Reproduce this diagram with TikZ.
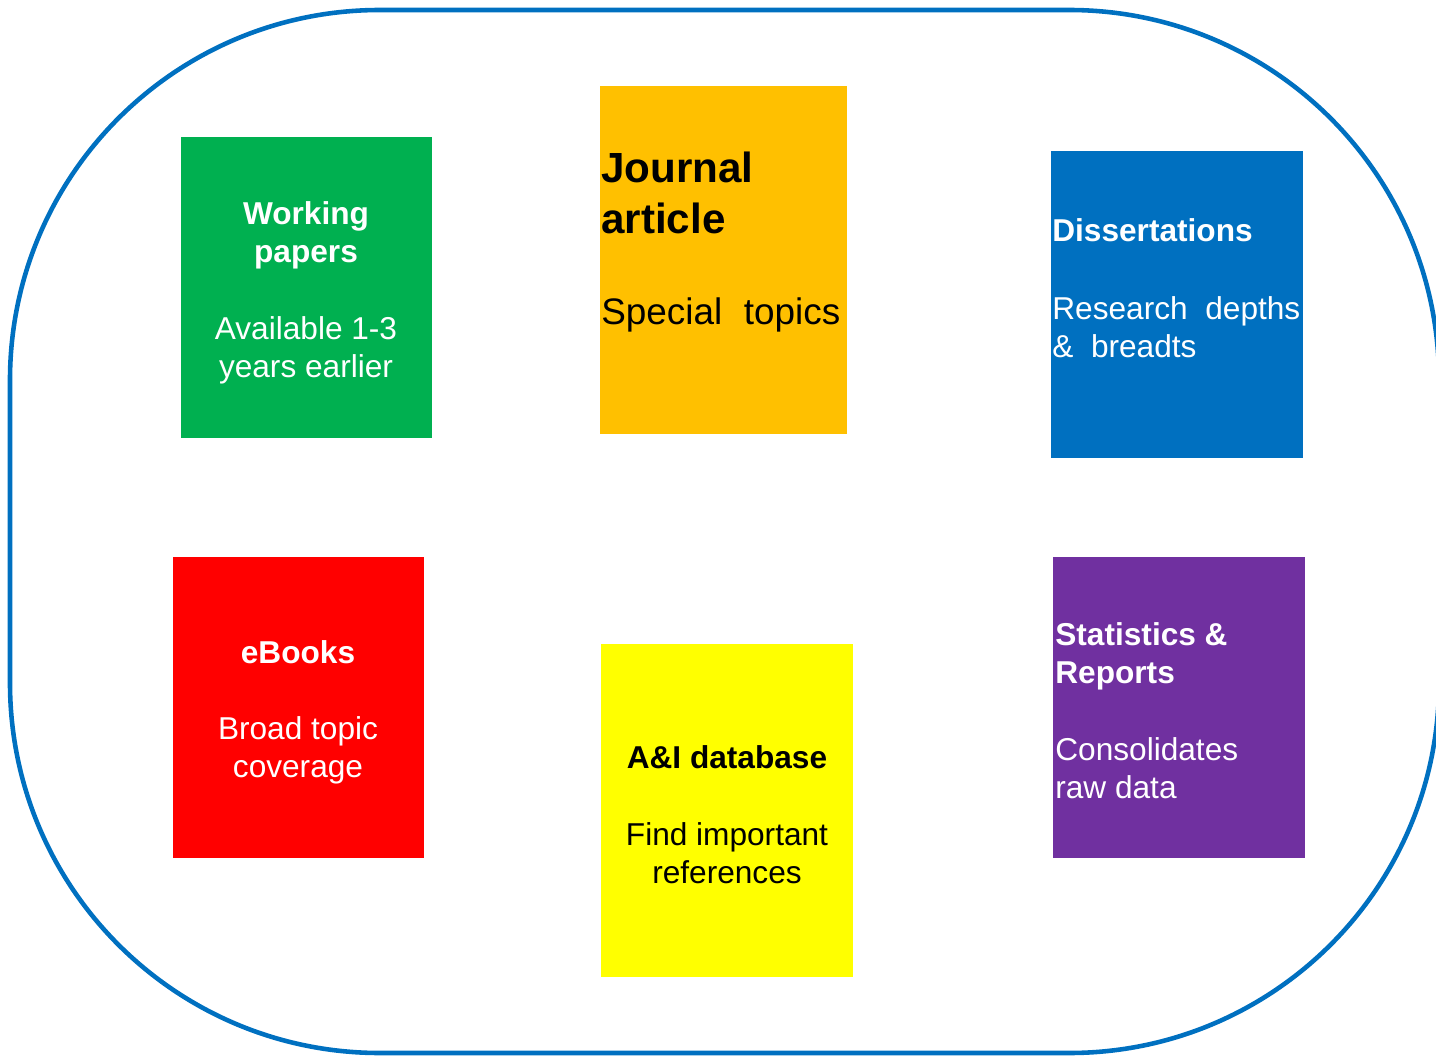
\documentclass[tikz,border=0pt]{standalone}
\usepackage{fontspec}
\setmainfont{Liberation Sans}
\usetikzlibrary{fit}

\definecolor{rimblue}{HTML}{0070C0}
\definecolor{wpgreen}{HTML}{00B050}
\definecolor{jaorange}{HTML}{FFC000}
\definecolor{dsblue}{HTML}{0070C0}
\definecolor{ebred}{HTML}{FF0000}
\definecolor{aiyellow}{HTML}{FFFF00}
\definecolor{srpurple}{HTML}{7030A0}

\begin{document}
\begin{tikzpicture}[x=0.02cm,y=-0.02cm,
    card/.style={rectangle,inner sep=0pt,draw=none},
    head/.style={inner sep=0pt,font=\bfseries\fontsize{18}{21.8}\selectfont},
    body/.style={inner sep=0pt,font=\fontsize{18}{21.8}\selectfont}]
    \useasboundingbox (0,0) rectangle (1436,1057);
    \draw[rimblue, line width=2.6pt, rounded corners=7.4cm] (10,10) rectangle (1439,1053);

    \node[card, fill=wpgreen, fit={(181,137) (432,438)}] (wp) {};
    \node[card, fill=jaorange, fit={(600,86) (847,434)}] (ja) {};
    \node[card, fill=dsblue, fit={(1051,151) (1303,458)}] (ds) {};
    \node[card, fill=ebred, fit={(173,557) (424,858)}] (eb) {};
    \node[card, fill=aiyellow, fit={(601,644) (853,977)}] (ai) {};
    \node[card, fill=srpurple, fit={(1053,557) (1305,858)}] (sr) {};

    \node[head, text=white, align=center] at (306,235) (wph) {Working\\papers};
    \node[body, text=white, align=center] at (306,350) (wpb) {Available 1-3\\years earlier};

    \node[inner sep=0pt, font=\bfseries\fontsize{24}{29.5}\selectfont, anchor=west, align=left] at (601,193) (jah) {Journal\\article};
    \node[inner sep=0pt, font=\fontsize{21}{25}\selectfont, anchor=west] at (601,315) (jab) {\makebox[4.78cm][s]{Special topics}};

    \node[head, text=white, anchor=west] at (1052,230) (dsh) {Dissertations};
    \node[body, text=white, anchor=west, align=left] at (1052,327) (dsb) {\makebox[4.96cm][s]{Research depths}\\\&\ \ breadts};

    \node[head, text=white, align=center] at (298,652) (ebh) {eBooks};
    \node[body, text=white, align=center] at (298,750) (ebb) {Broad topic\\coverage};

    \node[head, align=center] at (727,757) (aih) {A\&I database};
    \node[body, align=center] at (727,853) (aib) {Find important\\references};

    \node[head, text=white, anchor=west, align=left] at (1055,656) (srh) {Statistics \&\\Reports};
    \node[body, text=white, anchor=west, align=left] at (1055,768) (srb) {Consolidates\\raw data};
\end{tikzpicture}
\end{document}
